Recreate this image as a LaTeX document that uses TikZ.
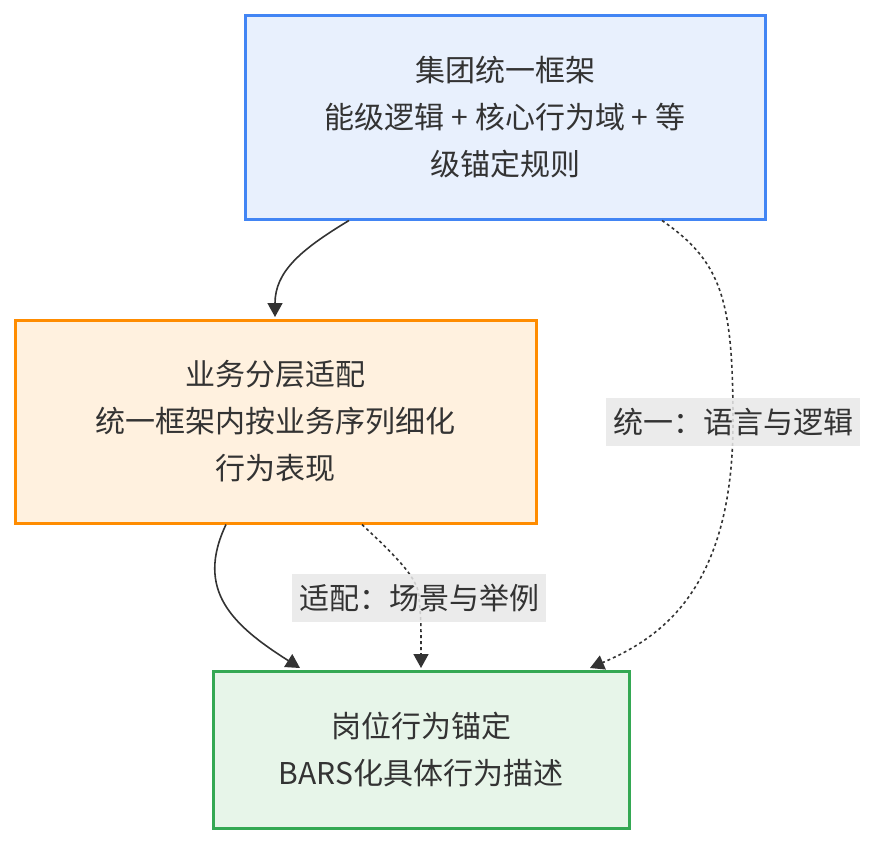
\documentclass[tikz,border=0pt]{standalone}
\usepackage{fontspec}
\setmainfont{Noto Sans CJK SC}
\usepackage{tikz}
\usetikzlibrary{positioning,arrows.meta}
\definecolor{txtgray}{RGB}{51,51,51}
\definecolor{frameblue}{RGB}{66,133,244}
\definecolor{paleblue}{RGB}{232,240,253}
\definecolor{frameorange}{RGB}{255,140,0}
\definecolor{paleorange}{RGB}{255,241,223}
\definecolor{framegreen}{RGB}{52,168,83}
\definecolor{palegreen}{RGB}{231,245,233}
\definecolor{labelgray}{RGB}{232,232,232}

\begin{document}
\begin{tikzpicture}[
    x=1pt, y=-1pt,
    every node/.style={text=txtgray, font=\fontsize{30}{47}\selectfont},
    box/.style={
        rectangle, line width=3pt,
        align=center, inner sep=0pt
    },
    lbl/.style={
        rectangle, fill=labelgray, fill opacity=0.85, text opacity=1,
        inner xsep=7pt, minimum height=48pt
    },
    arrow/.style={-{Triangle[length=14pt, width=15pt]}, line width=1.6pt, txtgray},
    dotarrow/.style={arrow, dash pattern=on 3pt off 3pt}
]
\useasboundingbox (0,0) rectangle (878,844);

\node[box, draw=frameblue, fill=paleblue, minimum width=520pt, minimum height=204pt] (grp) at (505,117)
    {集团统一框架\\能级逻辑 + 核心行为域 + 等\\级锚定规则};

\node[box, draw=frameorange, fill=paleorange, minimum width=521pt, minimum height=203pt] (lay) at (275.5,421.5)
    {业务分层适配\\统一框架内按业务序列细化\\行为表现};

\node[box, draw=framegreen, fill=palegreen, minimum width=416pt, minimum height=157pt] (ank) at (421,749.5)
    {岗位行为锚定\\BARS化具体行为描述};

\coordinate (u) at (733,422);
\coordinate (v) at (419,598);

\draw[arrow] ([xshift=-156pt]grp.south) .. controls (300,250) and (275,272) .. ([xshift=-0.5pt,yshift=1.5pt]lay.north);
\draw[arrow] ([xshift=-49.5pt]lay.south) .. controls (195,590) and (232,625) .. ([xshift=-121pt,yshift=1.5pt]ank.north);
\draw[dotarrow] ([xshift=86.5pt]lay.south) .. controls (400,560) and (419,580) .. (v) .. controls (421,620) .. ([yshift=1.5pt]ank.north);
\draw[dotarrow] ([xshift=157pt]grp.south) .. controls (722,262) and (733,300) .. (u) .. controls (733,590) and (660,638) .. ([xshift=169pt,yshift=1.5pt]ank.north);

\node[lbl] (l1) at (u) {统一：语言与逻辑};
\node[lbl] (l2) at (v) {适配：场景与举例};

\end{tikzpicture}
\end{document}
